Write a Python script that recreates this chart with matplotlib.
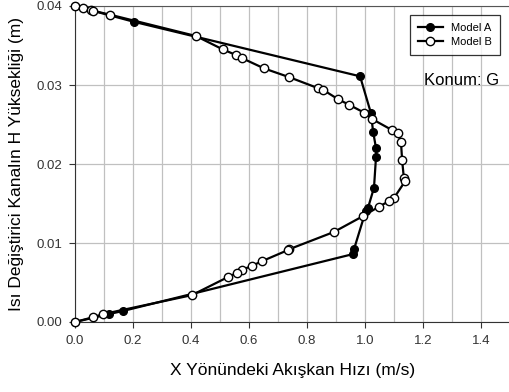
import numpy as np
import matplotlib.pyplot as plt
from matplotlib.ticker import MultipleLocator

plt.rcParams['font.family'] = ['Liberation Sans', 'DejaVu Sans']

# Model A (filled markers)
a_x = [0.0, 0.203, 0.983, 1.02, 1.028, 1.038, 1.038, 1.031, 1.01, 1.003,
       0.962, 0.959, 0.166, 0.117, 0.0]
a_y = [0.0400, 0.0380, 0.0311, 0.0265, 0.0241, 0.0220, 0.0209, 0.0170, 0.0144,
       0.0141, 0.0092, 0.0086, 0.0014, 0.0010, 0.0]

# Model B (open markers)
b_x = [0.0, 0.028, 0.055, 0.062, 0.121, 0.417, 0.51, 0.555, 0.576, 0.652,
       0.738, 0.838, 0.855, 0.907, 0.945, 0.997, 1.024, 1.093, 1.113, 1.124,
       1.128, 1.134, 1.138, 1.100, 1.083, 1.048, 0.993, 0.893, 0.738, 0.734,
       0.645, 0.610, 0.576, 0.558, 0.528, 0.403, 0.097, 0.062, 0.0]
b_y = [0.0400, 0.0397, 0.0395, 0.0394, 0.0389, 0.0362, 0.0345, 0.0338, 0.0334,
       0.0321, 0.0310, 0.0296, 0.0294, 0.0282, 0.0275, 0.0265, 0.0257, 0.0243,
       0.0239, 0.0228, 0.0205, 0.0182, 0.0178, 0.0157, 0.0153, 0.0146, 0.0134,
       0.0114, 0.0092, 0.0091, 0.0077, 0.0071, 0.0066, 0.0062, 0.0057, 0.0034,
       0.0010, 0.0006, 0.0]

fig = plt.figure(figsize=(5.1, 3.92), dpi=100)
ax = fig.add_axes([75 / 510, 70 / 392, 435 / 510, 316 / 392])

ax.plot(a_x, a_y, '-o', color='black', lw=1.6, ms=5.5, mfc='black',
        mec='black', label='Model A', clip_on=False, zorder=3)
ax.plot(b_x, b_y, '-o', color='black', lw=1.6, ms=6, mfc='white',
        mec='black', mew=1.0, label='Model B', clip_on=False, zorder=4)

ax.set_xlim(0, 1.5)
ax.set_ylim(0, 0.04)
ax.xaxis.set_major_locator(MultipleLocator(0.2))
ax.xaxis.set_minor_locator(MultipleLocator(0.1))
ax.yaxis.set_major_locator(MultipleLocator(0.01))
ax.xaxis.set_major_formatter(plt.FuncFormatter(lambda v, p: '%.1f' % v))
ax.yaxis.set_major_formatter(plt.FuncFormatter(lambda v, p: '%.2f' % v))

ax.grid(which='both', axis='x', color='#c0c0c0', lw=0.9)
ax.grid(which='major', axis='y', color='#c0c0c0', lw=0.9)
ax.tick_params(which='minor', length=0)
ax.tick_params(which='major', length=4, width=0.8, labelsize=9.5,
               colors='#333333', pad=5)

ax.spines['right'].set_visible(False)
ax.spines['top'].set_color('#555555')
for s in ['left', 'bottom']:
    ax.spines[s].set_color('#333333')

ax.set_xlabel('X Yönündeki Akışkan Hızı (m/s)', fontsize=12.5, labelpad=12)
ax.set_ylabel('Isı Değiştirici Kanalın H Yüksekliği (m)', fontsize=12.5, labelpad=9)

leg = ax.legend(loc='upper right', bbox_to_anchor=(0.99, 0.988), fontsize=8,
                frameon=True, fancybox=False, edgecolor='black',
                handlelength=2.2, borderpad=0.7, labelspacing=0.35)
leg.get_frame().set_linewidth(0.9)

ax.text(0.975, 0.765, 'Konum: G', transform=ax.transAxes, fontsize=12,
        ha='right', va='center')

fig.savefig('out.png', dpi=100)
